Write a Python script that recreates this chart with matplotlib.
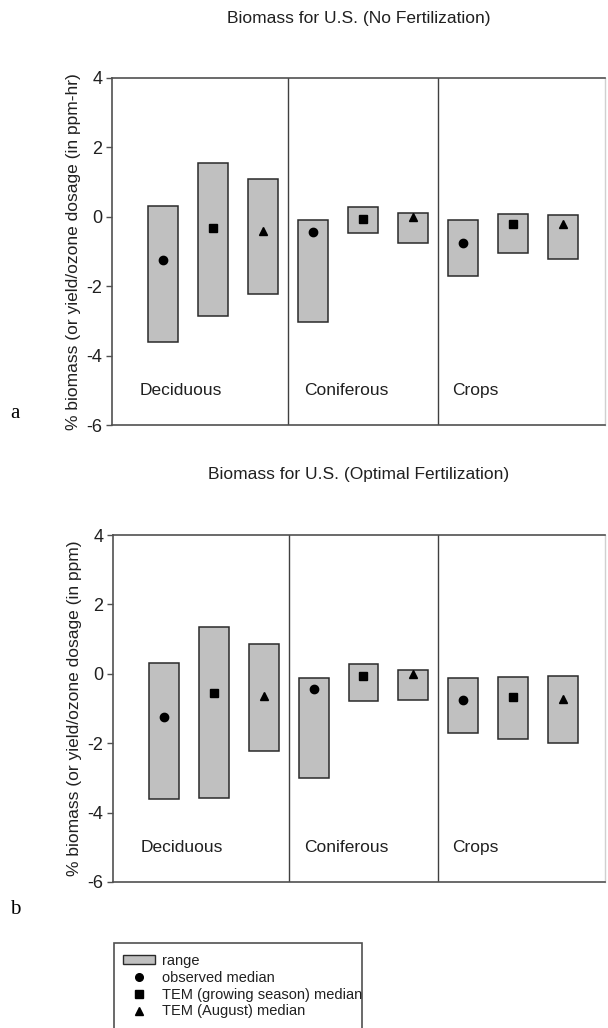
import matplotlib
matplotlib.use("Agg")
import matplotlib.pyplot as plt
from matplotlib.patches import Patch, Rectangle
from matplotlib.lines import Line2D

plt.rcParams['font.family'] = ['Liberation Sans', 'DejaVu Sans']

# ---- data ----
groups = ["Deciduous", "Coniferous", "Crops"]
series = ["observed median", "TEM (growing season) median", "TEM (August) median"]
markers = ["o", "s", "^"]

# panel a (No Fertilization): per bar [Dec obs, Dec TEM gs, Dec TEM Aug, Con..., Crops...]
a_low = [-3.60, -2.87, -2.23, -3.02, -0.48, -0.75, -1.71, -1.04, -1.21]
a_high = [0.32, 1.56, 1.10, -0.10, 0.28, 0.10, -0.10, 0.07, 0.05]
a_med = [-1.25, -0.31, -0.40, -0.43, -0.05, -0.02, -0.76, -0.20, -0.22]

# panel b (Optimal Fertilization)
b_low = [-3.60, -3.57, -2.23, -3.00, -0.78, -0.75, -1.70, -1.88, -1.99]
b_high = [0.32, 1.36, 0.85, -0.12, 0.28, 0.10, -0.12, -0.09, -0.05]
b_med = [-1.25, -0.55, -0.63, -0.44, -0.06, -0.02, -0.75, -0.68, -0.74]

titles = ["Biomass for U.S. (No Fertilization)", "Biomass for U.S. (Optimal Fertilization)"]
ylabels = ["% biomass (or yield/ozone dosage (in ppm-hr)", "% biomass (or yield/ozone dosage (in ppm)"]
panel_letters = ["a", "b"]
yticks = [4, 2, 0, -2, -4, -6]

W, H = 608, 1028
fig = plt.figure(figsize=(W / 100, H / 100), dpi=100)

def px_rect(l, t, r, b):
    return [l / W, 1 - b / H, (r - l) / W, (b - t) / H]

axes_px = [(112, 78, 605, 425), (113, 535, 605, 882)]
title_y = [18, 475]
letter_y = [414, 910]

fill = "#c0c0c0"
edge = "#2a2a2a"
spine_c = "#505050"

for k, (low, high, med) in enumerate([(a_low, a_high, a_med), (b_low, b_high, b_med)]):
    ax = fig.add_axes(px_rect(*axes_px[k]))
    xs = list(range(1, 10))
    heights = [h - l for l, h in zip(low, high)]
    ax.bar(xs, heights, bottom=low, width=0.6, color=fill, edgecolor=edge, linewidth=1.1, zorder=2)
    for i, x in enumerate(xs):
        ax.plot([x], [med[i]], marker=markers[i % 3], color="black", markersize=6,
                linestyle="none", zorder=3)
    for d in (3.5, 6.5):
        ax.axvline(d, color="#404040", lw=1.0, zorder=1)
    for g, gx in zip(groups, (0.54, 3.82, 6.78)):
        ax.text(gx, -5.0, g, fontsize=12.5, color="#202020", ha="left", va="center")
    ax.set_xlim(-0.02, 9.84)
    ax.set_ylim(-6, 4)
    ax.set_yticks(yticks)
    ax.set_yticklabels([str(t) for t in yticks], fontsize=13, color="#202020")
    ax.set_xticks([])
    ax.tick_params(axis="y", direction="out", length=4, width=1, color=spine_c, pad=3)
    for s in ("left", "bottom", "top"):
        ax.spines[s].set_color(spine_c)
        ax.spines[s].set_linewidth(1.2)
    ax.spines["right"].set_color("#d0d0d0")
    ax.spines["right"].set_linewidth(1.0)
    ax.set_ylabel(ylabels[k], fontsize=12.5, color="#202020", labelpad=4)
    cx = (axes_px[k][0] + axes_px[k][2]) / 2
    fig.text(cx / W, 1 - title_y[k] / H, titles[k], fontsize=12.5, color="#202020",
             ha="center", va="center")
    fig.text(15 / W, 1 - letter_y[k] / H, panel_letters[k], fontsize=15,
             family=["Liberation Serif", "DejaVu Serif"], ha="center", va="center")

handles = [Patch(facecolor=fill, edgecolor=edge, linewidth=1.0)]
handles += [Line2D([], [], marker=m, color="black", linestyle="none", markersize=5.5) for m in markers]
leg = fig.legend(handles, ["range"] + series, loc="upper left",
                 bbox_to_anchor=(114 / W, 1 - 945 / H), bbox_transform=fig.transFigure,
                 fontsize=10.5, frameon=False, borderaxespad=0,
                 borderpad=0.6, labelspacing=0.2, handlelength=2.2, handleheight=0.5,
                 handletextpad=0.5)
for t in leg.get_texts():
    t.set_color("#202020")

# legend frame, running off the bottom of the figure as in the reference
fig.patches.append(Rectangle((114 / W, -0.01), (362 - 114) / W, 0.01 + (1 - 943 / H),
                             transform=fig.transFigure, fill=False,
                             edgecolor=spine_c, linewidth=1.2, zorder=5))

fig.savefig("out.png", dpi=100)
